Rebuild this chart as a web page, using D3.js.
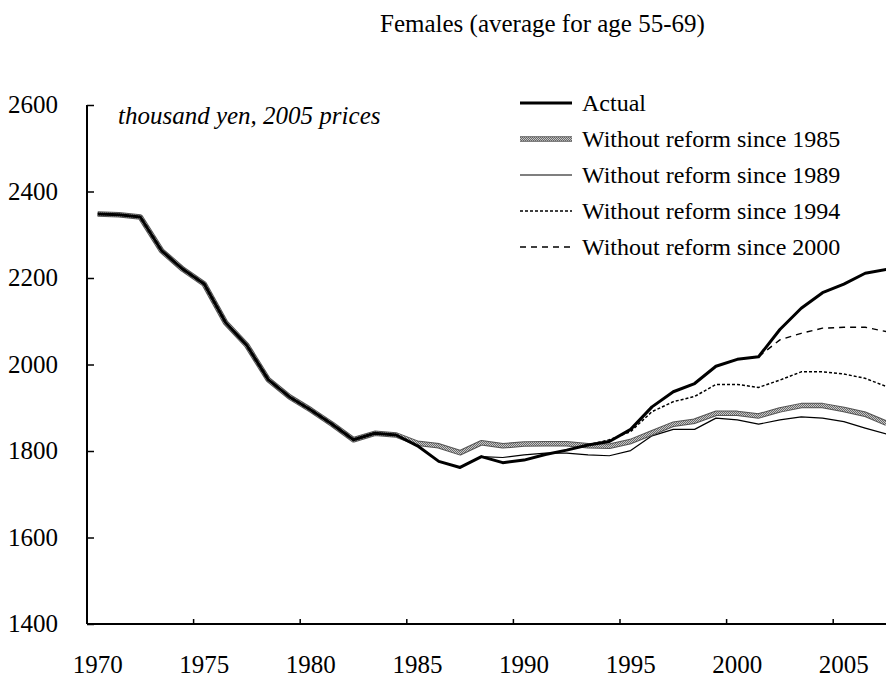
<!DOCTYPE html>
<html>
<head>
<meta charset="utf-8">
<script src="https://cdn.jsdelivr.net/npm/d3@7"></script>
<style>
  body { margin: 0; background: #fff; }
  text { font-family: "Liberation Serif", "Times New Roman", serif; fill: #000; }
</style>
</head>
<body>
<div id="chart-container"></div>
<script>
// data (thousand yen, 2005 prices)
const years = d3.range(1970, 2008)
const xTickYears = [1970, 1975, 1980, 1985, 1990, 1995, 2000, 2005]
const yTicks = [1400, 1600, 1800, 2000, 2200, 2400, 2600]

const actual = [2348, 2346, 2341, 2263, 2220, 2186, 2097, 2044, 1965, 1925,
  1895, 1862, 1826, 1841, 1837, 1812, 1776, 1762, 1787, 1773,
  1779, 1792, 1802, 1814, 1822, 1850, 1902, 1937, 1956, 1996,
  2012, 2018, 2081, 2130, 2166, 2186, 2211, 2220]

// without reform since 1985 (from 1970)
const reform1985 = [2348, 2346, 2341, 2263, 2220, 2186, 2097, 2044, 1965, 1925,
  1895, 1862, 1826, 1841, 1837, 1818, 1812, 1796, 1819, 1812,
  1816, 1817, 1817, 1812, 1811, 1822, 1842, 1862, 1869, 1887,
  1887, 1881, 1895, 1905, 1905, 1896, 1885, 1864]

// without reform since 1989 (from 1988)
const reform1989 = [1787, 1785, 1791, 1795, 1795, 1791, 1789, 1801, 1835, 1850,
  1850, 1876, 1872, 1862, 1872, 1879, 1876, 1868, 1853, 1839]

// without reform since 1994 (from 1993)
const reform1994 = [1814, 1826, 1845, 1891, 1914, 1926, 1954, 1954, 1947, 1964,
  1983, 1983, 1978, 1968, 1949]

// without reform since 2000 (from 2001)
const reform2000 = [2018, 2057, 2072, 2084, 2086, 2086, 2076]

const series = [
  { name: "Without reform since 2000", start: 2001, values: reform2000, style: "dash" },
  { name: "Without reform since 1994", start: 1993, values: reform1994, style: "dot" },
  { name: "Without reform since 1989", start: 1988, values: reform1989, style: "thin" },
  { name: "Without reform since 1985", start: 1970, values: reform1985, style: "gray" },
  { name: "Actual", start: 1970, values: actual, style: "thick" }
]
const legendOrder = ["Actual", "Without reform since 1985", "Without reform since 1989",
  "Without reform since 1994", "Without reform since 2000"]

/** CONSTANTS */
const width = 886
const height = 677
const plot = { left: 87, top: 105, bottom: 624, step: 21.32 }

/** SCALES */
const xScale = d3.scaleBand()
  .domain(years)
  .range([plot.left, plot.left + years.length * plot.step])

const yScale = d3.scaleLinear()
  .domain([1400, 2600])
  .range([plot.bottom, plot.top])

const xCenter = yr => xScale(yr) + xScale.bandwidth() / 2

/** DRAWING ELEMENTS */
const svg = d3.select('#chart-container')
  .append("svg")
  .attr("width", width)
  .attr("height", height)

// checkered pattern for the grey line
const pat = svg.append("defs").append("pattern")
  .attr("id", "checker")
  .attr("patternUnits", "userSpaceOnUse")
  .attr("width", 2).attr("height", 2)
pat.append("rect").attr("width", 2).attr("height", 2).attr("fill", "#c8c8c8")
pat.append("rect").attr("width", 1).attr("height", 1).attr("fill", "#6a6a6a")
pat.append("rect").attr("x", 1).attr("y", 1).attr("width", 1).attr("height", 1).attr("fill", "#6a6a6a")

// title and unit note
svg.append("text")
  .attr("x", 380)
  .attr("y", 32)
  .style("font-size", "25px")
  .text("Females (average for age 55-69)")

svg.append("text")
  .attr("x", 118)
  .attr("y", 124)
  .style("font-size", "25px")
  .style("font-style", "italic")
  .text("thousand yen, 2005 prices")

// y axis
const yAxis = d3.axisRight(yScale)
  .tickValues(yTicks)
  .tickSize(7)
  .tickFormat("")
const gy = svg.append("g")
  .attr("transform", `translate(${plot.left},0)`)
  .call(yAxis)
gy.select(".domain").remove()
gy.selectAll("line").attr("stroke", "#000").attr("stroke-width", 1.5)

svg.selectAll("text.ylab")
  .data(yTicks)
  .join("text")
  .attr("class", "ylab")
  .attr("x", 58)
  .attr("y", d => yScale(d))
  .attr("dy", "0.33em")
  .attr("text-anchor", "end")
  .style("font-size", "25px")
  .text(d => d)

// x axis ticks sit between categories, every 5 years
svg.selectAll("line.xtick")
  .data(xTickYears.slice(1))
  .join("line")
  .attr("class", "xtick")
  .attr("x1", d => xScale(d))
  .attr("x2", d => xScale(d))
  .attr("y1", plot.bottom)
  .attr("y2", plot.bottom - 5)
  .attr("stroke", "#000")
  .attr("stroke-width", 1.5)

svg.selectAll("text.xlab")
  .data(xTickYears)
  .join("text")
  .attr("class", "xlab")
  .attr("x", d => xCenter(d))
  .attr("y", 673)
  .attr("text-anchor", "middle")
  .style("font-size", "25px")
  .text(d => d)

// axis lines
svg.append("line")
  .attr("x1", plot.left).attr("x2", plot.left)
  .attr("y1", plot.top).attr("y2", plot.bottom)
  .attr("stroke", "#000").attr("stroke-width", 2)
svg.append("line")
  .attr("x1", plot.left).attr("x2", width)
  .attr("y1", plot.bottom).attr("y2", plot.bottom)
  .attr("stroke", "#000").attr("stroke-width", 2)

// line styles
function styleLine(sel, style) {
  if (style === "thick") sel.attr("stroke", "#000").attr("stroke-width", 3)
  if (style === "thin") sel.attr("stroke", "#000").attr("stroke-width", 1.2)
  if (style === "dot") sel.attr("stroke", "#000").attr("stroke-width", 1.5).attr("stroke-dasharray", "3,2")
  if (style === "dash") sel.attr("stroke", "#000").attr("stroke-width", 1.4).attr("stroke-dasharray", "6,5")
  if (style === "gray") sel.attr("stroke", "url(#checker)").attr("stroke-width", 3.5)
  return sel.attr("fill", "none").attr("stroke-linejoin", "round")
}

const line = d3.line()
  .x(d => xCenter(d.year))
  .y(d => yScale(d.value))

series.forEach(s => {
  const pts = s.values.map((v, i) => ({ year: s.start + i, value: v }))
  if (s.style === "gray") {
    svg.append("path").datum(pts).attr("d", line)
      .attr("fill", "none").attr("stroke", "#555").attr("stroke-width", 5.5)
      .attr("stroke-linejoin", "round")
  }
  styleLine(svg.append("path").datum(pts).attr("d", line), s.style)
})

// legend
const legend = svg.selectAll("g.legend")
  .data(legendOrder.map(n => series.find(s => s.name === n)))
  .join("g")
  .attr("class", "legend")
  .attr("transform", (d, i) => `translate(0,${103 + i * 36})`)

legend.each(function (d) {
  const g = d3.select(this)
  if (d.style === "gray") {
    g.append("line").attr("x1", 520).attr("x2", 572)
      .attr("stroke", "#555").attr("stroke-width", 5.5)
  }
  styleLine(g.append("line").attr("x1", 520).attr("x2", 572), d.style)
})

legend.append("text")
  .attr("x", 582)
  .attr("dy", "0.33em")
  .style("font-size", "24px")
  .text(d => d.name)
</script>
</body>
</html>
